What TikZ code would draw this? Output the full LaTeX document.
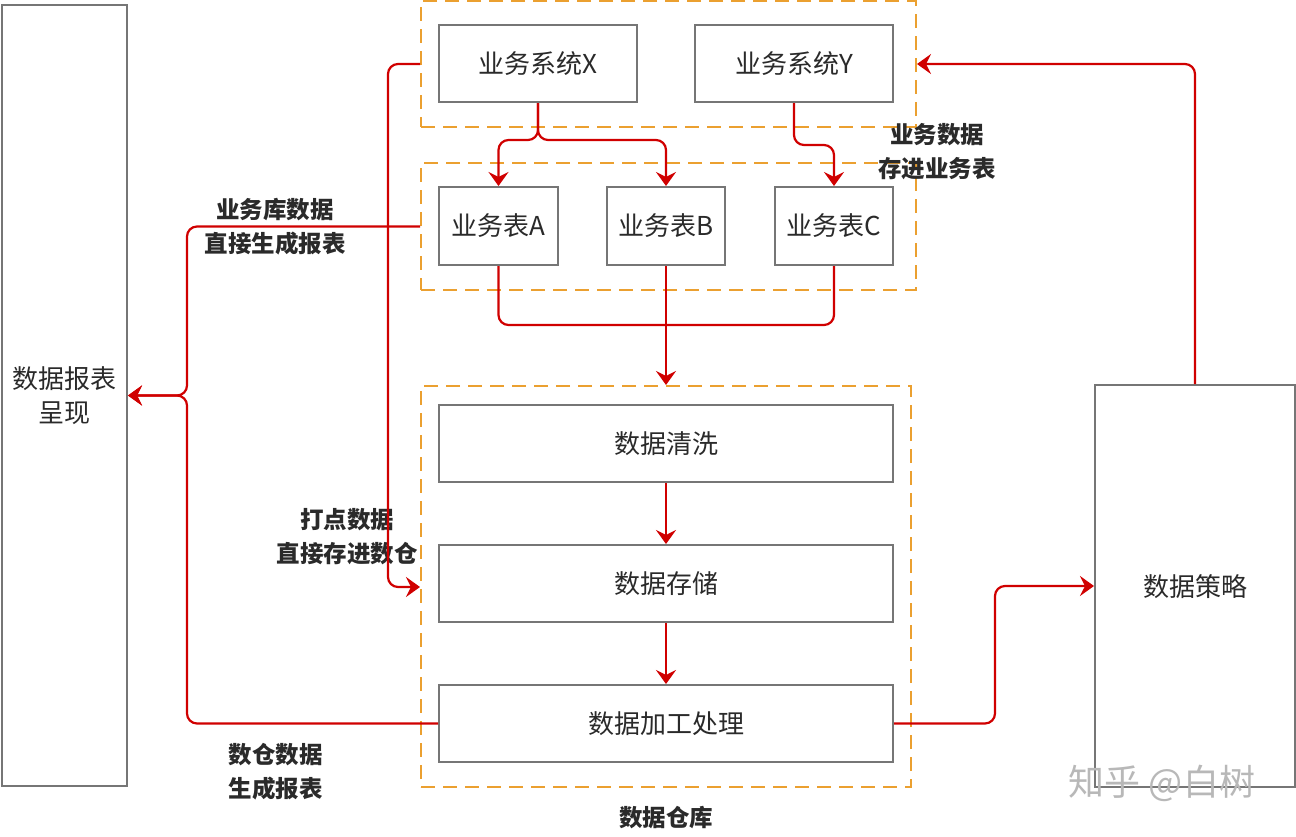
\documentclass[tikz,border=0pt]{standalone}
\usepackage{fontspec}
\setmainfont{Noto Sans CJK SC}
\usetikzlibrary{arrows.meta}
\definecolor{lred}{HTML}{D00000}
\definecolor{grp}{HTML}{EBA030}
\definecolor{bgray}{HTML}{767676}
\definecolor{txt}{HTML}{2A2A2A}
\tikzset{
  box/.style={draw=bgray, line width=2pt, fill=white, text=txt, font=\fontsize{26}{30}\selectfont, inner sep=0pt},
  grpbox/.style={draw=grp, line width=2pt, dash pattern=on 14pt off 8pt, inner sep=0pt},
  lab/.style={text=txt, font=\bfseries\fontsize{23.5}{34}\selectfont, align=center, inner sep=0pt},
  link/.style={draw=lred, line width=2.2pt, rounded corners=10pt},
  conn/.style={link, -{Stealth[length=14pt,width=20pt,inset=5pt]}},
}
\begin{document}
\begin{tikzpicture}[x=1pt,y=-1pt]
\useasboundingbox (0,0) rectangle (1296,836);
% groups
\node[grpbox, minimum width=495pt, minimum height=126pt] (g1) at (668.5,64) {};
\node[grpbox, minimum width=495pt, minimum height=127pt] (g2) at (668.5,226.5) {};
\node[grpbox, minimum width=490pt, minimum height=401pt] (g3) at (666,586.5) {};
% boxes
\node[box, minimum width=125pt, minimum height=781pt, align=center, font=\fontsize{26}{34}\selectfont] (rep) at (64.5,395.5) {数据报表\\呈现};
\node[box, minimum width=198pt, minimum height=77pt] (x) at (538,63.5) {业务系统X};
\node[box, minimum width=198pt, minimum height=77pt] (y) at (794,63.5) {业务系统Y};
\node[box, minimum width=119pt, minimum height=78pt] (a) at (498.5,226) {业务表A};
\node[box, minimum width=118pt, minimum height=78pt] (b) at (666,226) {业务表B};
\node[box, minimum width=118pt, minimum height=78pt] (c) at (834,226) {业务表C};
\node[box, minimum width=454pt, minimum height=77pt] (clean) at (666,443.5) {数据清洗};
\node[box, minimum width=454pt, minimum height=77pt] (store) at (666,583.5) {数据存储};
\node[box, minimum width=454pt, minimum height=77pt] (proc) at (666,723.5) {数据加工处理};
\node[box, minimum width=200pt, minimum height=402pt] (strat) at (1195,586) {};
\node[text=txt, font=\fontsize{26}{30}\selectfont, inner sep=0pt] (stratlab) at (1195,587) {数据策略};
% labels
\node[lab] (l1) at (937,152) {业务数据\\存进业务表};
\node[lab] (l2) at (275,226.5) {业务库数据\\直接生成报表};
\node[lab] (l3) at (347,536.5) {打点数据\\直接存进数仓};
\node[lab] (l4) at (275.5,772) {数仓数据\\生成报表};
\node[lab] (l5) at (666,818) {数据仓库};
% connectors
\draw[conn] (x.south) -- (538,140) -| (a.north);
\draw[conn] (x.south) -- (538,140) -| (b.north);
\draw[conn] (y.south) -- (794,145) -| (c.north);
\draw[link] (a.south) |- (666,325);
\draw[link] (c.south) |- (666,325);
\draw[conn] (b.south) -- (g3.north);
\draw[conn] (clean.south) -- (store.north);
\draw[conn] (store.south) -- (proc.north);
\draw[conn] (g1.west) -| (388,587) -- (g3.west |- 0,587);
\draw[conn] (g2.west) -| (187,395.5) -- (rep.east);
\draw[conn] (proc.west) -| (187,395.5) -- (rep.east);
\draw[conn] (proc.east) -| (995,586) -- (strat.west);
\draw[conn] (strat.north) |- (g1.east);
% watermark
\node[text=black!28, font=\fontsize{36}{40}\selectfont, inner sep=0pt] (wm) at (1162,783) {知乎 @白树};
\end{tikzpicture}
\end{document}
